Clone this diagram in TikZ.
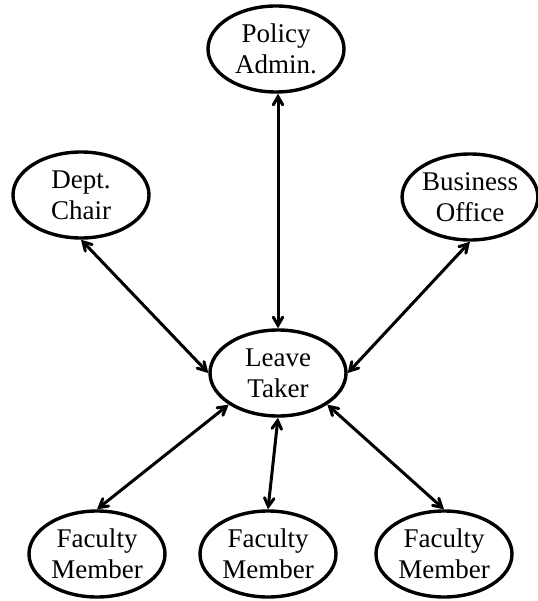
\documentclass[tikz,border=0pt]{standalone}
\usepackage{fontspec}
\setmainfont{Liberation Serif}
\usetikzlibrary{arrows, positioning, shapes.geometric}

\begin{document}
\begin{tikzpicture}[x=1pt, y=-1pt]
		\tikzstyle{Node} = [ellipse, minimum width=136pt, minimum height=86pt, inner sep=0pt, align=center, draw=black, fill=white, line width = 3.4pt, font=\fontsize{27}{31}\selectfont]
		\tikzstyle{arrow} = [line width=3pt,<->,>=angle 60]
		
		\useasboundingbox (0,0) rectangle (537,601);
		\node (leave) [Node] at (278,373) {Leave\\Taker};
		\node (policy) [Node] at (276,49) {Policy\\Admin.};
		\node (chair) [Node] at (81,195) {Dept.\\Chair};
		\node (office) [Node, minimum width=130pt] at (470,197) {Business\\Office};
		\node (fac1) [Node] at (97,554) {Faculty\\Member};
		\node (fac2) [Node] at (268,554) {Faculty\\Member};
		\node (fac3) [Node] at (444,554) {Faculty\\Member};
		
		\draw [arrow] (leave.north) -- (leave.north |- policy.south);
		\draw [arrow] (leave.west) -- (chair.south);
		\draw [arrow] (leave.east) -- (office.south);
		\draw [arrow] (leave.south west) -- (fac1.north);
		\draw [arrow] (leave.south) -- (fac2.north);
		\draw [arrow] (leave.south east) -- (fac3.north);
		\end{tikzpicture}
\end{document}
